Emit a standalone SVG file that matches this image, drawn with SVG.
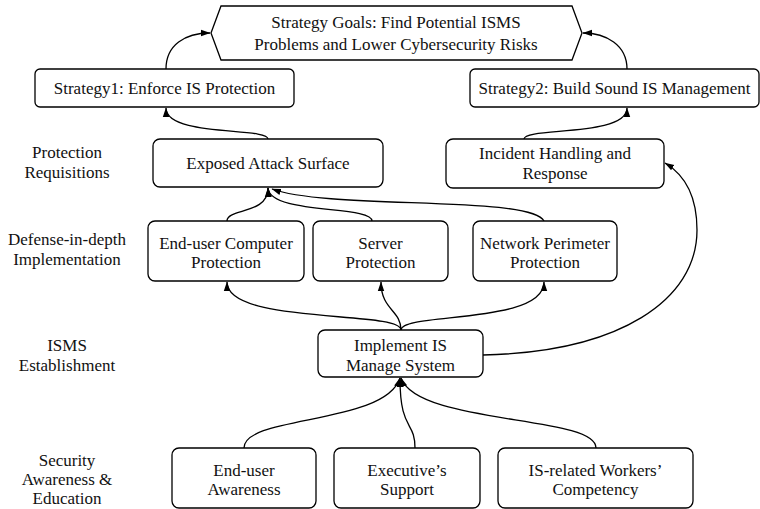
<svg xmlns="http://www.w3.org/2000/svg" width="760" height="509" viewBox="0 0 760 509">
<defs>
<marker id="ah" markerWidth="10" markerHeight="8" refX="9" refY="4" orient="auto" markerUnits="userSpaceOnUse">
<path d="M0,0.8 L9.5,4 L0,7.2 Z" fill="#000"/>
</marker>
</defs>
<style>
text{font-family:"Liberation Serif","Times New Roman",serif;font-size:17px;fill:#111;text-anchor:middle}
.box{fill:#fff;stroke:#000;stroke-width:1.3}
.c{fill:none;stroke:#000;stroke-width:1.3;marker-end:url(#ah)}
</style>
<rect width="760" height="509" fill="#fff"/>
<g id="labels">
<text x="67" y="158">Protection</text>
<text x="67" y="178">Requisitions</text>
<text x="67" y="245">Defense-in-depth</text>
<text x="67" y="265">Implementation</text>
<text x="67" y="351">ISMS</text>
<text x="67" y="371">Establishment</text>
<text x="67" y="466">Security</text>
<text x="67" y="485">Awareness &amp;</text>
<text x="67" y="504">Education</text>
</g>
<g id="connectors">
<path class="c" d="M166,69 C166,45 185,33 210,33"/>
<path class="c" d="M627,69 C627,45 606,33 583,33"/>
<path class="c" d="M268,139 C268,127 166,137 166,108"/>
<path class="c" d="M524,139 C524,127 627,137 627,108"/>
<path class="c" d="M227,221 C227,208 268,215 268,188"/>
<path class="c" d="M372,221 C372,205 270,215 268,188"/>
<path class="c" d="M544,221 C530,195 330,210 272,189"/>
<path class="c" d="M401,330 C401,310 227,325 227,282"/>
<path class="c" d="M401,330 C401,310 381,310 381,282"/>
<path class="c" d="M401,330 C401,312 544,325 544,282"/>
<path class="c" d="M483,355 C620,352 697,300 697,230 C697,195 685,175 665,163"/>
<path class="c" d="M244,448 C244,415 385,425 400,378"/>
<path class="c" d="M415,448 C415,420 400,432 400,378"/>
<path class="c" d="M596,448 C596,415 418,425 401,378"/>
</g>
<g id="goal">
<polygon class="box" points="211,33 221,6 572,6 582,33 572,60 221,60"/>
<text x="396" y="28">Strategy Goals: Find Potential ISMS</text>
<text x="396" y="50">Problems and Lower Cybersecurity Risks</text>
</g>
<g id="strategy1">
<rect class="box" x="35" y="69" width="259" height="38" rx="5"/>
<text x="164.5" y="94">Strategy1: Enforce IS Protection</text>
</g>
<g id="strategy2">
<rect class="box" x="470" y="69" width="289" height="38" rx="5"/>
<text x="614.5" y="94">Strategy2: Build Sound IS Management</text>
</g>
<g id="exposed">
<rect class="box" x="153" y="139" width="230" height="48" rx="7"/>
<text x="268" y="169">Exposed Attack Surface</text>
</g>
<g id="incident">
<rect class="box" x="446" y="139" width="218" height="49" rx="7"/>
<text x="555" y="159">Incident Handling and</text>
<text x="555" y="179">Response</text>
</g>
<g id="enduser-computer">
<rect class="box" x="148" y="221" width="156" height="60" rx="7"/>
<text x="226" y="249">End-user Computer</text>
<text x="226" y="268">Protection</text>
</g>
<g id="server">
<rect class="box" x="313" y="221" width="135" height="60" rx="7"/>
<text x="380.5" y="249">Server</text>
<text x="380.5" y="268">Protection</text>
</g>
<g id="network">
<rect class="box" x="473" y="221" width="144" height="60" rx="7"/>
<text x="545" y="249">Network Perimeter</text>
<text x="545" y="268">Protection</text>
</g>
<g id="implement">
<rect class="box" x="318" y="330" width="165" height="47" rx="7"/>
<text x="400.5" y="351">Implement IS</text>
<text x="400.5" y="371">Manage System</text>
</g>
<g id="enduser-awareness">
<rect class="box" x="172" y="448" width="144" height="60" rx="7"/>
<text x="244" y="476">End-user</text>
<text x="244" y="495">Awareness</text>
</g>
<g id="executive">
<rect class="box" x="334" y="448" width="146" height="60" rx="7"/>
<text x="407" y="476">Executive’s</text>
<text x="407" y="495">Support</text>
</g>
<g id="workers">
<rect class="box" x="498" y="448" width="195" height="60" rx="7"/>
<text x="595.5" y="476">IS-related Workers’</text>
<text x="595.5" y="495">Competency</text>
</g>
</svg>
